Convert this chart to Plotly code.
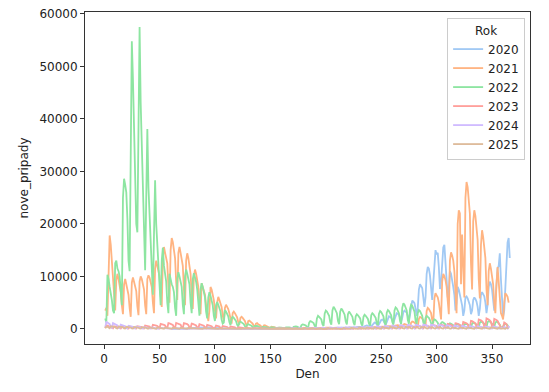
import plotly.graph_objects as go

# ---------------- data ----------------
years = ["2020", "2021", "2022", "2023", "2024", "2025"]
colors = ["#a1c9f4", "#ffb482", "#8de5a1", "#ff9f9b", "#d0bbff", "#debb9b"]
start_day = {"2020": 61, "2021": 1, "2022": 1, "2023": 1, "2024": 1, "2025": 1}

cases_2020 = [
    3, 0, 2, 1, 7, 13,
    14, 18, 9, 22, 36, 53, 43,
    64, 99, 94, 124, 174, 139, 181,
    144, 170, 290, 270, 340, 330, 260,
    220, 290, 250, 230, 310, 270, 190,
    160, 250, 240, 220, 180, 120, 90,
    130, 160, 180, 110, 90, 60, 100,
    120, 100, 80, 70, 60, 40, 70,
    80, 70, 60, 50, 40, 30, 60,
    70, 60, 50, 40, 30, 30, 50,
    80, 60, 50, 60, 40, 30, 50,
    60, 50, 40, 50, 30, 20, 40,
    50, 60, 50, 40, 30, 30, 60,
    70, 80, 60, 50, 40, 30, 60,
    80, 90, 100, 80, 60, 40, 70,
    100, 120, 110, 90, 130, 160, 240,
    260, 200, 180, 150, 120, 80, 100,
    120, 140, 130, 110, 80, 60, 90,
    110, 130, 120, 100, 90, 70, 100,
    140, 160, 150, 130, 110, 80, 120,
    170, 200, 180, 160, 140, 100, 150,
    210, 260, 250, 230, 200, 130, 180,
    250, 290, 270, 240, 200, 150, 200,
    280, 320, 300, 270, 240, 180, 230,
    360, 420, 400, 380, 330, 240, 320,
    520, 620, 650, 600, 500, 350, 480,
    800, 1100, 1200, 1150, 900, 600, 900,
    1400, 1700, 1800, 1600, 1200, 800, 1300,
    2000, 2400, 2300, 2100, 1700, 1100, 1800,
    2600, 3000, 2900, 2700, 2200, 1400, 2100,
    3200, 3500, 3300, 3100, 2500, 1700, 2700,
    4500, 5400, 5200, 4900, 3800, 2500, 4000,
    7500, 8500, 8200, 7800, 6000, 4200, 6000,
    10500, 11800, 11500, 10200, 8200, 5500, 8800,
    13500, 15000, 14200, 14500, 11800, 7600, 9000,
    13000, 15500, 16000, 12000, 9500, 6000, 7500,
    11000, 10500, 9500, 8000, 6500, 3500, 5000,
    8000, 7500, 6500, 5500, 4500, 2500, 3500,
    6000, 6200, 5800, 5200, 4500, 2800, 3500,
    5500, 6000, 5700, 5200, 4200, 2500, 3800,
    6500, 7000, 6700, 6200, 5000, 3000, 4600,
    8000, 9000, 8500, 7500, 6000, 3500, 5500,
    9000, 11500, 12000, 14400, 9500, 4500, 2300,
    3500, 7500, 12000, 16500, 17300, 13500,
]

cases_2021 = [
    3500, 4000, 2500,
    10000, 17800, 16000, 13000, 11500, 7000, 3500,
    9300, 10500, 9500, 8500, 7000, 4500, 2800,
    8500, 9500, 8500, 7500, 6500, 4000, 2300,
    8800, 9800, 9000, 8000, 7200, 4300, 2600,
    9000, 10000, 9500, 8500, 7500, 4500, 2800,
    9500, 10200, 9800, 9000, 8000, 5000, 3000,
    11500, 13000, 12000, 11000, 10000, 6500, 4200,
    13500, 15600, 14500, 13500, 12500, 8000, 5000,
    15000, 17300, 16500, 14500, 13500, 9000, 5500,
    14500, 15600, 14500, 13000, 12000, 7500, 4500,
    13000, 14400, 13500, 12000, 10500, 6500, 3800,
    10000, 11300, 10500, 9500, 8000, 5000, 2800,
    8700, 8000, 7000, 6500, 4500, 2500, 1500,
    3500, 8000, 7500, 6500, 5500, 3500, 2000,
    5000, 6100, 5500, 5000, 4200, 2600, 1500,
    4000, 4600, 4200, 3800, 3000, 1800, 1000,
    3000, 3300, 3000, 2700, 2200, 1300, 800,
    2100, 2300, 2100, 1800, 1500, 900, 500,
    1500, 1600, 1400, 1200, 1000, 600, 300,
    1000, 1100, 900, 800, 650, 400, 200,
    650, 700, 600, 500, 400, 250, 150,
    400, 420, 350, 300, 250, 150, 80,
    250, 260, 220, 200, 170, 100, 60,
    180, 190, 170, 150, 130, 80, 50,
    150, 160, 140, 130, 110, 70, 40,
    150, 170, 160, 140, 120, 80, 50,
    170, 200, 180, 160, 140, 90, 60,
    200, 240, 220, 200, 170, 110, 70,
    220, 260, 240, 220, 190, 120, 80,
    200, 250, 230, 210, 180, 110, 70,
    210, 240, 220, 200, 170, 100, 70,
    220, 250, 230, 210, 180, 110, 70,
    230, 270, 250, 230, 200, 120, 80,
    250, 300, 280, 260, 220, 130, 90,
    300, 360, 340, 320, 270, 160, 110,
    380, 450, 430, 400, 340, 200, 130,
    480, 570, 540, 500, 430, 250, 160,
    620, 720, 690, 640, 550, 320, 200,
    820, 950, 900, 830, 700, 400, 260,
    1200, 1400, 1350, 1250, 1050, 600, 380,
    1900, 2300, 2200, 2000, 1700, 1000, 600,
    3400, 4000, 3800, 3500, 3000, 1700, 1100,
    5800, 6800, 6400, 6000, 5000, 2900, 1800,
    9000, 10500, 10000, 9300, 8000, 4500, 2800,
    13000, 14600, 14000, 13000, 11000, 6500, 3000,
    20000, 22600, 22000, 8500, 18000, 10000, 6000,
    25000, 28000, 27000, 25000, 22000, 12500, 7500,
    20500, 22600, 21500, 19500, 17000, 9500, 5800,
    16000, 18800, 17500, 15500, 13500, 7500, 4500,
    11000, 12500, 11500, 10000, 8500, 4800, 3000,
    8500, 11800, 9000, 5000, 3000, 2500, 1800,
    5000, 6800, 6500, 6100, 5000,
]

cases_2022 = [
    2000, 1200,
    10300, 9500, 8000, 7000, 5500, 3500, 3000,
    12500, 13000, 11500, 11000, 10000, 6500, 4500,
    25000, 28600, 27500, 26000, 21000, 13000, 11000,
    33000, 54800, 47600, 37500, 33000, 20000, 18400,
    38000, 57500, 43000, 35000, 28000, 15000, 11200,
    25000, 38100, 27000, 22000, 18500, 11000, 6500,
    18000, 28300, 20000, 16000, 13500, 7500, 4500,
    13000, 15500, 12000, 10000, 9000, 5000, 3000,
    10500, 9300, 8500, 8000, 7000, 4000, 2500,
    9500, 10800, 10000, 9000, 8000, 4500, 2800,
    10000, 11300, 10500, 9500, 8500, 5000, 3000,
    9500, 10600, 9800, 9000, 7500, 4300, 2500,
    7500, 8700, 8000, 7000, 6000, 3300, 2000,
    6000, 7000, 6300, 5500, 4500, 2500, 1500,
    4500, 5100, 4600, 4000, 3300, 1800, 1000,
    1200, 3600, 3300, 2900, 2400, 1300, 700,
    2000, 2300, 2100, 1800, 1500, 800, 450,
    1200, 1400, 1250, 1100, 900, 500, 300,
    800, 900, 800, 700, 600, 320, 200,
    550, 600, 550, 480, 400, 220, 140,
    400, 430, 400, 350, 300, 160, 100,
    300, 330, 300, 270, 230, 120, 80,
    260, 290, 270, 240, 200, 110, 70,
    280, 320, 300, 270, 230, 120, 80,
    400, 480, 460, 420, 360, 180, 110,
    700, 850, 800, 750, 650, 330, 200,
    1200, 1500, 1400, 1300, 1100, 550, 350,
    2000, 2500, 2300, 2100, 1800, 900, 550,
    2900, 3500, 3300, 3000, 2500, 1300, 800,
    3500, 4200, 3900, 3500, 3000, 1500, 900,
    3300, 3900, 3600, 3200, 2700, 1400, 850,
    2800, 3300, 3000, 2700, 2300, 1200, 700,
    2400, 2800, 2600, 2300, 2000, 1000, 600,
    2300, 2700, 2500, 2200, 1900, 1000, 600,
    2600, 3000, 2800, 2500, 2100, 1100, 650,
    2900, 3400, 3200, 2900, 2400, 1200, 750,
    3100, 3600, 3400, 3100, 2600, 1300, 800,
    3500, 4100, 3900, 3500, 3000, 1500, 900,
    4000, 4900, 4600, 4200, 3500, 1700, 1000,
    3800, 4600, 4400, 4000, 3300, 1600, 950,
    3000, 3600, 3400, 3000, 2500, 1200, 700,
    2100, 2500, 2300, 2100, 1700, 850, 500,
    1500, 1800, 1700, 1500, 1200, 600, 350,
    1100, 1300, 1200, 1000, 850, 450, 250,
    900, 1050, 950, 850, 700, 350, 200,
    800, 950, 850, 300, 650, 330, 200,
    900, 1000, 950, 850, 700, 350, 220,
    1000, 1200, 1100, 1000, 800, 400, 250,
    1200, 1400, 1300, 1150, 950, 480, 300,
    1300, 1500, 1400, 1250, 1000, 500, 320,
    1200, 1400, 1300, 1100, 800, 300, 200,
    500, 900, 1000, 900, 700, 300,
]

cases_2023 = [
    150,
    700, 650, 550, 500, 400, 150, 100,
    500, 480, 420, 380, 320, 120, 80,
    420, 400, 370, 330, 280, 110, 70,
    450, 430, 400, 360, 300, 120, 80,
    520, 500, 460, 420, 350, 140, 90,
    650, 620, 580, 520, 430, 170, 110,
    800, 780, 720, 650, 540, 210, 130,
    950, 920, 860, 780, 650, 250, 160,
    1100, 1050, 980, 900, 750, 290, 180,
    1150, 1100, 1030, 950, 800, 300, 190,
    1100, 1050, 980, 900, 750, 290, 180,
    1000, 960, 900, 820, 680, 260, 160,
    900, 860, 800, 730, 600, 230, 140,
    780, 750, 700, 640, 520, 200, 120,
    150, 650, 600, 550, 450, 170, 100,
    560, 540, 500, 450, 370, 140, 90,
    450, 430, 400, 360, 300, 110, 70,
    330, 320, 290, 260, 220, 80, 50,
    250, 240, 220, 200, 170, 60, 40,
    180, 170, 160, 140, 120, 45, 30,
    130, 120, 110, 100, 85, 30, 20,
    100, 95, 85, 75, 65, 25, 15,
    80, 75, 70, 60, 50, 20, 12,
    70, 65, 60, 55, 45, 18, 10,
    65, 60, 55, 50, 40, 15, 10,
    60, 55, 50, 45, 40, 15, 10,
    60, 55, 50, 45, 40, 15, 10,
    65, 60, 55, 50, 40, 15, 10,
    75, 70, 65, 60, 50, 18, 12,
    90, 85, 80, 70, 60, 22, 14,
    110, 105, 100, 90, 75, 28, 18,
    140, 135, 125, 110, 95, 35, 22,
    180, 175, 165, 150, 125, 45, 28,
    240, 230, 215, 195, 165, 60, 38,
    320, 310, 290, 260, 220, 80, 50,
    420, 400, 380, 340, 290, 110, 65,
    520, 500, 470, 420, 360, 130, 80,
    600, 580, 540, 490, 410, 150, 95,
    640, 620, 580, 520, 440, 160, 100,
    650, 630, 590, 530, 450, 165, 100,
    680, 660, 620, 560, 470, 170, 105,
    720, 700, 650, 590, 500, 180, 110,
    780, 760, 710, 640, 540, 200, 120,
    850, 830, 770, 700, 590, 220, 130,
    950, 920, 860, 780, 650, 240, 150,
    1100, 1070, 1000, 900, 760, 280, 170,
    1300, 1260, 1180, 1060, 890, 330, 200,
    1550, 1500, 1400, 1260, 1060, 390, 240,
    1800, 1750, 1630, 1470, 1230, 450, 280,
    2000, 1950, 1800, 1630, 1370, 500, 310,
    1900, 1850, 1700, 1550, 1100, 400, 250,
    200, 300, 1200, 1100, 900, 350, 200,
]

cases_2024 = [
    300,
    1300, 1200, 1050, 900, 350, 220,
    1100, 1000, 900, 800, 650, 250, 160,
    800, 750, 680, 600, 500, 190, 120,
    600, 560, 510, 460, 380, 140, 90,
    450, 420, 380, 340, 280, 100, 65,
    340, 320, 290, 260, 210, 80, 50,
    260, 240, 220, 200, 160, 60, 40,
    200, 190, 170, 150, 125, 45, 30,
    160, 150, 140, 120, 100, 35, 25,
    130, 120, 110, 100, 80, 30, 20,
    110, 100, 95, 85, 70, 25, 15,
    95, 90, 85, 75, 60, 22, 14,
    80, 75, 70, 60, 50, 18, 12,
    70, 65, 60, 55, 45, 16, 10,
    60, 55, 50, 45, 38, 14, 9,
    55, 50, 46, 42, 35, 12, 8,
    50, 46, 42, 38, 32, 11, 7,
    48, 44, 40, 36, 30, 10, 7,
    50, 46, 42, 38, 32, 11, 7,
    55, 50, 46, 42, 35, 12, 8,
    60, 55, 50, 46, 38, 13, 9,
    70, 65, 60, 54, 45, 16, 10,
    85, 80, 74, 66, 55, 20, 12,
    105, 100, 92, 82, 68, 25, 15,
    130, 125, 115, 103, 86, 31, 19,
    160, 150, 140, 126, 105, 38, 24,
    190, 180, 168, 150, 126, 46, 28,
    220, 210, 195, 175, 146, 53, 33,
    250, 240, 222, 200, 167, 60, 38,
    270, 260, 240, 216, 180, 65, 41,
    290, 280, 260, 234, 195, 70, 44,
    310, 300, 278, 250, 208, 75, 47,
    340, 330, 305, 275, 229, 83, 52,
    380, 365, 340, 305, 255, 92, 58,
    430, 415, 385, 345, 288, 104, 65,
    490, 470, 437, 393, 328, 118, 74,
    560, 540, 500, 450, 375, 135, 85,
    630, 610, 565, 508, 424, 153, 96,
    700, 680, 630, 567, 473, 170, 107,
    760, 740, 690, 620, 516, 186, 117,
    800, 780, 725, 652, 543, 196, 123,
    820, 800, 745, 670, 558, 201, 126,
    800, 780, 725, 652, 543, 196, 123,
    760, 740, 690, 620, 516, 186, 117,
    700, 680, 630, 567, 473, 170, 107,
    640, 620, 575, 518, 431, 155, 98,
    580, 560, 520, 468, 390, 140, 88,
    530, 510, 475, 427, 356, 128, 80,
    500, 485, 450, 405, 338, 122, 76,
    480, 465, 430, 387, 323, 116, 73,
    470, 455, 420, 378, 315, 114, 71,
    200, 120, 150, 380, 320, 110, 70,
    400, 300,
]

cases_2025 = [
    150, 450, 400, 180, 120,
    500, 470, 440, 400, 330, 120, 75,
    450, 430, 400, 360, 300, 110, 70,
    400, 380, 355, 320, 265, 95, 60,
    360, 340, 320, 290, 240, 85, 55,
    320, 305, 285, 255, 210, 76, 48,
    290, 275, 258, 232, 192, 70, 44,
    260, 247, 231, 208, 172, 62, 39,
    235, 223, 209, 188, 155, 56, 35,
    210, 200, 187, 168, 139, 50, 32,
    190, 180, 169, 152, 125, 45, 28,
    170, 162, 151, 136, 112, 40, 25,
    155, 147, 138, 124, 102, 37, 23,
    140, 133, 124, 112, 92, 33, 21,
    125, 119, 111, 100, 82, 30, 19,
    112, 106, 100, 90, 74, 27, 17,
    40, 98, 92, 83, 68, 25, 15,
    95, 90, 85, 76, 63, 23, 14,
    88, 84, 78, 70, 58, 21, 13,
    82, 78, 73, 66, 54, 20, 12,
    78, 74, 69, 62, 51, 19, 12,
    75, 71, 67, 60, 49, 18, 11,
    74, 70, 66, 59, 48, 18, 11,
    75, 71, 67, 60, 49, 18, 11,
    78, 74, 69, 62, 51, 19, 12,
    82, 78, 73, 66, 54, 20, 12,
    88, 84, 78, 70, 58, 21, 13,
    95, 90, 85, 76, 62, 23, 14,
    105, 100, 93, 84, 69, 25, 16,
    118, 112, 105, 94, 77, 28, 18,
    135, 128, 120, 108, 88, 32, 20,
    155, 147, 138, 124, 101, 37, 23,
    180, 171, 160, 144, 118, 43, 27,
    210, 200, 187, 168, 137, 50, 32,
    245, 233, 218, 196, 160, 59, 37,
    285, 271, 254, 228, 186, 68, 43,
    320, 304, 285, 256, 209, 77, 48,
    350, 333, 312, 280, 228, 84, 53,
    370, 352, 329, 296, 241, 89, 56,
    380, 361, 338, 304, 248, 91, 57,
    375, 356, 334, 300, 245, 90, 56,
    360, 342, 320, 288, 235, 86, 54,
    340, 323, 303, 272, 222, 82, 51,
    320, 304, 285, 256, 209, 77, 48,
    300, 285, 267, 240, 196, 72, 45,
    285, 271, 254, 228, 186, 68, 43,
    275, 261, 245, 220, 180, 66, 41,
    270, 257, 240, 216, 176, 65, 41,
    270, 257, 240, 216, 176, 65, 41,
    275, 261, 245, 220, 180, 66, 41,
    280, 266, 249, 224, 183, 67, 42,
    250, 120, 60, 50, 150, 60, 40,
    230, 200, 80,
]

series = {
    "2020": cases_2020, "2021": cases_2021, "2022": cases_2022,
    "2023": cases_2023, "2024": cases_2024, "2025": cases_2025,
}

x_ticks = [0, 50, 100, 150, 200, 250, 300, 350]
y_ticks = [0, 10000, 20000, 30000, 40000, 50000, 60000]

# ---------------- figure ----------------
fig = go.Figure()
all_days, all_vals = [], []
for yr, col in zip(years, colors):
    vals = series[yr]
    days = list(range(start_day[yr], start_day[yr] + len(vals)))
    all_days += days
    all_vals += vals
    fig.add_trace(go.Scatter(
        x=days, y=vals, mode="lines", name=yr,
        line=dict(color=col, width=1.8),
    ))

xmin, xmax = min(all_days), max(all_days)
xpad = 0.05 * (xmax - xmin)
ymin, ymax = min(all_vals), max(all_vals)
ypad = 0.05 * (ymax - ymin)

font = dict(family="DejaVu Sans, sans-serif", size=12, color="#222222")
axis_common = dict(
    showline=True, linecolor="#333333", linewidth=1, mirror=True,
    ticks="outside", ticklen=4, tickwidth=1, tickcolor="#333333",
    showgrid=False, zeroline=False, tickfont=font, automargin=False,
    ticklabeloverflow="allow",
)

# The page body adds an 8px offset, so margins are shifted accordingly.
fig.update_layout(
    width=549, height=392,
    margin=dict(l=77, r=27, t=4, b=56, autoexpand=False),
    paper_bgcolor="white", plot_bgcolor="white",
    font=font,
    xaxis=dict(range=[xmin - xpad, xmax + xpad], tickvals=x_ticks,
               title=dict(text="Den", font=font, standoff=4), **axis_common),
    yaxis=dict(range=[ymin - ypad, ymax + ypad], tickvals=y_ticks,
               tickformat="d",
               title=dict(text="nove_pripady", font=font, standoff=8), **axis_common),
    legend=dict(
        x=0.989, y=0.982, xanchor="right", yanchor="top",
        bgcolor="rgba(255,255,255,0.8)", bordercolor="#cccccc", borderwidth=1,
        title=dict(text="Rok", side="top center", font=font),
        font=font, itemwidth=30, tracegroupgap=0,
    ),
    showlegend=True,
)

fig.write_html("out.html")
